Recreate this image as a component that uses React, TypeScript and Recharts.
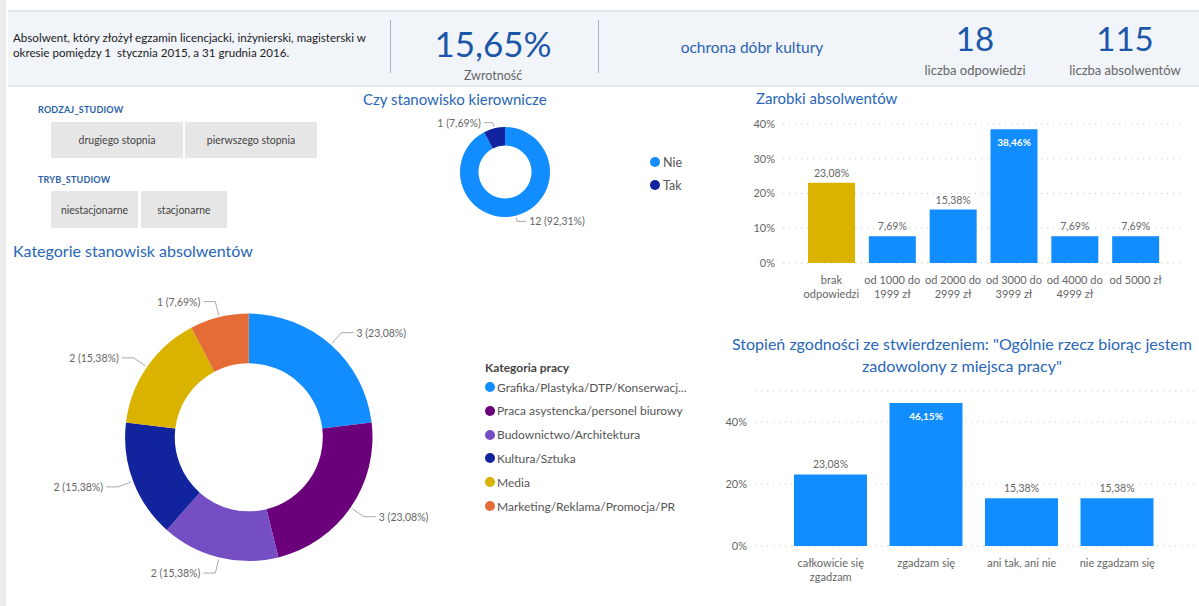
import React from 'react';
import { PieChart, Pie, Cell, BarChart, Bar, XAxis, YAxis, CartesianGrid, LabelList } from 'recharts';

const FONT = 'Lato, "Open Sans", "DejaVu Sans", sans-serif';
const TITLE_BLUE = '#2866b7';
const NUM_BLUE = '#1c56a8';

// ---- Header values ----
const headerDescription = ['Absolwent, który złożył egzamin licencjacki, inżynierski, magisterski w', 'okresie pomiędzy 1  stycznia 2015, a 31 grudnia 2016.'];
const returnRate = '15,65%';
const returnRateLabel = 'Zwrotność';
const fieldName = 'ochrona dóbr kultury';
const answersCount = '18';
const answersLabel = 'liczba odpowiedzi';
const graduatesCount = '115';
const graduatesLabel = 'liczba absolwentów';

// ---- Filters ----
const studyTypeTitle = 'RODZAJ_STUDIOW';
const studyTypeOptions = ['drugiego stopnia', 'pierwszego stopnia'];
const studyModeTitle = 'TRYB_STUDIOW';
const studyModeOptions = ['niestacjonarne', 'stacjonarne'];

// ---- Manager donut ----
const managerTitle = 'Czy stanowisko kierownicze';
const managerCats = ['Nie', 'Tak'];
const managerCounts = [12, 1];
const managerColors = ['#118DFF', '#12239E'];

// ---- Job category donut ----
const jobTitle = 'Kategorie stanowisk absolwentów';
const jobLegendTitle = 'Kategoria pracy';
const jobCats = [
  'Grafika/Plastyka/DTP/Konserwacja',
  'Praca asystencka/personel biurowy',
  'Budownictwo/Architektura',
  'Kultura/Sztuka',
  'Media',
  'Marketing/Reklama/Promocja/PR',
];
const jobLegendLabels = [
  'Grafika/Plastyka/DTP/Konserwacj...',
  'Praca asystencka/personel biurowy',
  'Budownictwo/Architektura',
  'Kultura/Sztuka',
  'Media',
  'Marketing/Reklama/Promocja/PR',
];
const jobCounts = [3, 3, 2, 2, 2, 1];
const jobColors = ['#118DFF', '#6B007B', '#744EC2', '#12239E', '#D9B300', '#E66C37'];

// ---- Salary bars ----
const salaryTitle = 'Zarobki absolwentów';
const salaryCats = ['brak odpowiedzi', 'od 1000 do 1999 zł', 'od 2000 do 2999 zł', 'od 3000 do 3999 zł', 'od 4000 do 4999 zł', 'od 5000 zł'];
const salaryTickLines = [['brak', 'odpowiedzi'], ['od 1000 do', '1999 zł'], ['od 2000 do', '2999 zł'], ['od 3000 do', '3999 zł'], ['od 4000 do', '4999 zł'], ['od 5000 zł']];
const salaryShares = [0.2308, 0.0769, 0.1538, 0.3846, 0.0769, 0.0769];
const salaryColors = ['#D9B300', '#118DFF', '#118DFF', '#118DFF', '#118DFF', '#118DFF'];
const salaryTicks = [0, 0.1, 0.2, 0.3, 0.4];

// ---- Satisfaction bars ----
const satisfactionTitle = ['Stopień zgodności ze stwierdzeniem: "Ogólnie rzecz biorąc jestem', 'zadowolony z miejsca pracy"'];
const satisfactionCats = ['całkowicie się zgadzam', 'zgadzam się', 'ani tak, ani nie', 'nie zgadzam się'];
const satisfactionTickLines = [['całkowicie się', 'zgadzam'], ['zgadzam się'], ['ani tak, ani nie'], ['nie zgadzam się']];
const satisfactionShares = [0.2308, 0.4615, 0.1538, 0.1538];
const satisfactionTicks = [0, 0.2, 0.4];

const fmtPct = (v: number) => (v * 100).toFixed(2).replace('.', ',') + '%';
const fmtTick = (v: number) => Math.round(v * 100) + '%';

const managerData = managerCats.map((name, i) => ({ name, value: managerCounts[i] }));
const jobData = jobCats.map((name, i) => ({ name, value: jobCounts[i] }));
const salaryData = salaryCats.map((name, i) => ({ name, value: salaryShares[i] }));
const satisfactionData = satisfactionCats.map((name, i) => ({ name, value: satisfactionShares[i] }));

const makePieLabel = (total: number, hLen: number) => (props: any) => {
  const { cx, cy, midAngle, outerRadius, value } = props;
  const RAD = Math.PI / 180;
  const c = Math.cos(-midAngle * RAD);
  const s = Math.sin(-midAngle * RAD);
  const r0 = outerRadius + 2;
  const r1 = outerRadius * 1.13;
  const x0 = cx + r0 * c, y0 = cy + r0 * s;
  const x1 = cx + r1 * c, y1 = cy + r1 * s;
  const dir = c >= 0 ? 1 : -1;
  const x2 = x1 + dir * hLen;
  const txt = `${value} (${fmtPct(value / total)})`;
  return (
    <g>
      <polyline points={`${x0},${y0} ${x1},${y1} ${x2},${y1}`} fill="none" stroke="#aaa" strokeWidth={1} />
      <text x={x2 + dir * 3} y={y1} textAnchor={dir > 0 ? 'start' : 'end'} dominantBaseline="central" fontSize={10.5} fill="#666" fontFamily={FONT}>
        {txt}
      </text>
    </g>
  );
};

const makeTick = (cats: string[], lines: string[][]) => (props: any) => {
  const { x, y, payload } = props;
  const idx = cats.indexOf(payload.value);
  const ls = idx >= 0 ? lines[idx] : [String(payload.value)];
  return (
    <text x={x} y={y} textAnchor="middle" fill="#666" fontSize={11} fontFamily={FONT}>
      {ls.map((l, i) => (
        <tspan key={i} x={x} dy={i === 0 ? 21 : 14}>{l}</tspan>
      ))}
    </text>
  );
};

const makeBarLabel = (insideFrom: number) => (props: any) => {
  const { x, y, width, value } = props;
  const cx = x + width / 2;
  if (value >= insideFrom) {
    return (
      <text x={cx} y={y + 13} textAnchor="middle" dominantBaseline="central" fill="#fff" fontSize={10} fontWeight={700} fontFamily={FONT}>
        {fmtPct(value)}
      </text>
    );
  }
  return (
    <text x={cx} y={y - 10} textAnchor="middle" dominantBaseline="central" fill="#666" fontSize={10.5} fontFamily={FONT}>
      {fmtPct(value)}
    </text>
  );
};

const abs = (left: number, top: number, extra: React.CSSProperties = {}): React.CSSProperties => ({
  position: 'absolute',
  left,
  top,
  ...extra,
});

const centerText = (cx: number, cy: number, size: number, color: string, extra: React.CSSProperties = {}): React.CSSProperties => ({
  position: 'absolute',
  left: cx - 300,
  width: 600,
  top: cy - size * 0.7,
  height: size * 1.4,
  lineHeight: `${size * 1.4}px`,
  fontSize: size,
  color,
  textAlign: 'center',
  whiteSpace: 'nowrap',
  ...extra,
});

const filterBox = (left: number, top: number, width: number, height: number): React.CSSProperties => ({
  position: 'absolute',
  left,
  top,
  width,
  height,
  background: '#e6e6e6',
  color: '#444',
  fontSize: 10.5,
  display: 'flex',
  alignItems: 'center',
  justifyContent: 'center',
});

export default function App() {
  const managerTotal = managerCounts.reduce((a, b) => a + b, 0);
  const jobTotal = jobCounts.reduce((a, b) => a + b, 0);
  const SalaryTick = makeTick(salaryCats, salaryTickLines);
  const SatisfactionTick = makeTick(satisfactionCats, satisfactionTickLines);

  return (
    <div style={{ position: 'absolute', left: 0, top: 0, width: 1199, height: 606, background: '#fff', fontFamily: FONT, overflow: 'hidden' }}>
      {/* left strip */}
      <div style={abs(0, 0, { width: 6, height: 606, background: '#ececec' })} />

      {/* header */}
      <div style={abs(8, 10, { width: 1191, height: 73, background: '#f1f4f9', borderTop: '2px solid #e2e8f0', borderBottom: '2px solid #e2e8f0' })} />
      <div style={abs(13, 30, { fontSize: 11.6, color: '#222', lineHeight: '15px', whiteSpace: 'pre' })}>
        {headerDescription.map((l, i) => (<div key={i}>{l}</div>))}
      </div>
      <div style={abs(390, 20, { width: 1, height: 53, background: '#9fb6d8' })} />
      <div style={abs(598, 20, { width: 1, height: 53, background: '#9fb6d8' })} />
      <div style={centerText(493, 43, 35, NUM_BLUE)}>{returnRate}</div>
      <div style={centerText(493, 76, 12.5, '#666')}>{returnRateLabel}</div>
      <div style={centerText(752, 48, 15.5, '#2a63b0')}>{fieldName}</div>
      <div style={centerText(975, 38, 33, NUM_BLUE)}>{answersCount}</div>
      <div style={centerText(975, 70, 13, '#666')}>{answersLabel}</div>
      <div style={centerText(1125, 38, 33, NUM_BLUE)}>{graduatesCount}</div>
      <div style={centerText(1125, 70, 13, '#666')}>{graduatesLabel}</div>

      {/* filters */}
      <div style={abs(38, 104, { fontSize: 9, color: '#2a5fa8', fontWeight: 700, letterSpacing: 0.2 })}>{studyTypeTitle}</div>
      <div style={filterBox(51, 122, 132, 36)}>{studyTypeOptions[0]}</div>
      <div style={filterBox(185, 122, 132, 36)}>{studyTypeOptions[1]}</div>
      <div style={abs(38, 174, { fontSize: 9, color: '#2a5fa8', fontWeight: 700, letterSpacing: 0.2 })}>{studyModeTitle}</div>
      <div style={filterBox(51, 191, 87, 37)}>{studyModeOptions[0]}</div>
      <div style={filterBox(141, 191, 86, 37)}>{studyModeOptions[1]}</div>

      {/* manager donut */}
      <div style={abs(363, 90, { fontSize: 15, color: TITLE_BLUE, whiteSpace: 'nowrap' })}>{managerTitle}</div>
      <div style={abs(400, 105)}>
        <PieChart width={230} height={140}>
          <Pie
            data={managerData}
            dataKey="value"
            nameKey="name"
            cx={100}
            cy={62}
            innerRadius={26.5}
            outerRadius={45}
            startAngle={90}
            endAngle={-270}
            stroke="none"
            isAnimationActive={false}
            labelLine={false}
            label={makePieLabel(managerTotal, 9)}
          >
            {managerData.map((d, i) => (<Cell key={d.name} fill={managerColors[i]} />))}
          </Pie>
        </PieChart>
      </div>
      {managerCats.map((c, i) => (
        <div key={c} style={abs(650, 154 + i * 23, { display: 'flex', alignItems: 'center', fontSize: 12.5, color: '#555', height: 16 })}>
          <span style={{ width: 10, height: 10, borderRadius: 5, background: managerColors[i], display: 'inline-block', marginRight: 3 }} />
          {c}
        </div>
      ))}

      {/* job donut */}
      <div style={abs(13, 241, { fontSize: 16, color: TITLE_BLUE, whiteSpace: 'nowrap' })}>{jobTitle}</div>
      <div style={abs(0, 280)}>
        <PieChart width={470} height={320}>
          <Pie
            data={jobData}
            dataKey="value"
            nameKey="name"
            cx={243.8}
            cy={152.3}
            innerRadius={74}
            outerRadius={123.7}
            startAngle={90}
            endAngle={-270}
            stroke="none"
            isAnimationActive={false}
            labelLine={false}
            label={makePieLabel(jobTotal, 12)}
          >
            {jobData.map((d, i) => (<Cell key={d.name} fill={jobColors[i]} />))}
          </Pie>
        </PieChart>
      </div>
      <div style={abs(485, 360, { fontSize: 12, color: '#444', fontWeight: 700 })}>{jobLegendTitle}</div>
      {jobLegendLabels.map((c, i) => (
        <div key={c} style={abs(485, 379 + i * 23.8, { display: 'flex', alignItems: 'center', fontSize: 12, color: '#555', height: 16, whiteSpace: 'nowrap' })}>
          <span style={{ width: 10, height: 10, borderRadius: 5, background: jobColors[i], display: 'inline-block', marginRight: 2 }} />
          {c}
        </div>
      ))}

      {/* salary bars */}
      <div style={abs(756, 89, { fontSize: 15, color: TITLE_BLUE, whiteSpace: 'nowrap' })}>{salaryTitle}</div>
      <div style={abs(720, 110)}>
        <BarChart width={479} height={200} data={salaryData} margin={{ top: 14, right: 14, bottom: 0, left: 0 }}>
          <CartesianGrid vertical={false} stroke="#c8c8c8" strokeDasharray="1 5" />
          <XAxis
            dataKey="name"
            axisLine={false}
            tickLine={false}
            tickSize={0}
            tickMargin={0}
            height={47}
            interval={0}
            padding={{ left: 18, right: 19 }}
            tick={SalaryTick}
          />
          <YAxis
            width={63}
            domain={[0, 0.4]}
            ticks={salaryTicks}
            tickFormatter={fmtTick}
            axisLine={false}
            tickLine={false}
            tick={{ fill: '#666', fontSize: 11, fontFamily: FONT }}
          />
          <Bar dataKey="value" barSize={47} isAnimationActive={false}>
            {salaryData.map((d, i) => (<Cell key={d.name} fill={salaryColors[i]} />))}
            <LabelList dataKey="value" content={makeBarLabel(0.35)} />
          </Bar>
        </BarChart>
      </div>

      {/* satisfaction bars */}
      {satisfactionTitle.map((l, i) => (
        <div key={i} style={centerText(962, 344 + i * 22, 16, TITLE_BLUE)}>{l}</div>
      ))}
      <div style={abs(700, 380)}>
        <BarChart width={499} height={220} data={satisfactionData} margin={{ top: 11, right: 4, bottom: 0, left: 0 }}>
          <CartesianGrid vertical={false} stroke="#c8c8c8" strokeDasharray="1 5" />
          <XAxis
            dataKey="name"
            axisLine={false}
            tickLine={false}
            tickSize={0}
            tickMargin={0}
            height={54}
            interval={0}
            padding={{ left: 28, right: 30 }}
            tick={SatisfactionTick}
          />
          <YAxis
            width={55}
            domain={[0, 0.5]}
            ticks={satisfactionTicks}
            tickFormatter={fmtTick}
            axisLine={false}
            tickLine={false}
            tick={{ fill: '#666', fontSize: 11, fontFamily: FONT }}
          />
          <Bar dataKey="value" barSize={73} fill="#118DFF" isAnimationActive={false}>
            <LabelList dataKey="value" content={makeBarLabel(0.4)} />
          </Bar>
        </BarChart>
      </div>
    </div>
  );
}
